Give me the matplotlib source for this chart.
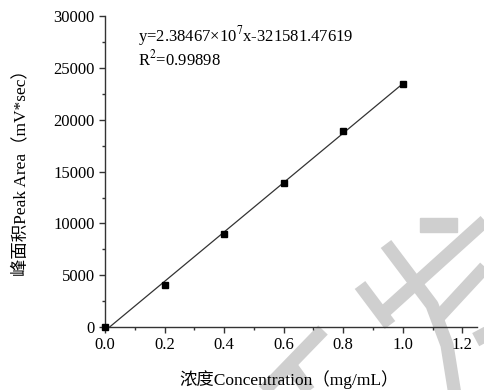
import numpy as np
import matplotlib.pyplot as plt
from matplotlib.ticker import MultipleLocator

plt.rcParams['font.family'] = ['Liberation Serif', 'Noto Sans CJK SC']
plt.rcParams['mathtext.fontset'] = 'stix'
plt.rcParams['axes.unicode_minus'] = False

conc = np.array([0.0, 0.2, 0.4, 0.6, 0.8, 1.0])
area = np.array([0, 4050, 9000, 13900, 18900, 23500])
equation = 'y=2.38467×10$^{7}$x-321581.47619'
r2_text = 'R$^{2}$=0.99898'
xlabel = '浓度Concentration（mg/mL）'
ylabel = '峰面积Peak Area（mV*sec）'

W, H = 484, 390
fig = plt.figure(figsize=(W / 100, H / 100), dpi=100)

# faint watermark strokes (pixel coords of the page, y down)
watermark = [
    [(260, 395), (323, 330)],
    [(288, 362), (312, 395)],
    [(360, 285), (390, 325)],
    [(383, 313), (486, 220)],
    [(386, 244), (432, 305), (447, 345), (455, 395)],
    [(436, 320), (486, 266)],
    [(478, 330), (486, 345)],
]
for stroke in watermark:
    xs = [p[0] / W for p in stroke]
    ys = [1 - p[1] / H for p in stroke]
    fig.add_artist(plt.Line2D(xs, ys, color='#cfcfcf', lw=9.5, solid_capstyle='butt',
                              solid_joinstyle='round', zorder=0, transform=fig.transFigure))
fig.add_artist(plt.Rectangle((420 / W, 1 - 232 / H), 37 / W, 14 / H, color='#cfcfcf',
                             zorder=0, transform=fig.transFigure))

ax = fig.add_axes([0.217, 0.1615, 0.769, 0.797])
ax.patch.set_alpha(0)

coef = np.polyfit(conc, area, 1)
xfit = np.array([conc.min(), conc.max()])
ax.plot(xfit, np.polyval(coef, xfit), color='#333333', lw=0.9, zorder=2)
ax.plot(conc, area, 's', color='black', ms=5, zorder=3, clip_on=False)

ax.set_xlim(0, 1.25)
ax.set_ylim(0, 30000)
ax.xaxis.set_major_locator(MultipleLocator(0.2))
ax.xaxis.set_minor_locator(MultipleLocator(0.1))
ax.yaxis.set_major_locator(MultipleLocator(5000))
ax.yaxis.set_minor_locator(MultipleLocator(2500))
ax.xaxis.set_major_formatter(plt.FuncFormatter(lambda v, p: f'{v:.1f}'))

for s in ['top', 'right']:
    ax.spines[s].set_visible(False)
for s in ['left', 'bottom']:
    ax.spines[s].set_color('#333333')
    ax.spines[s].set_linewidth(1.0)
ax.tick_params(which='major', direction='out', length=4, width=1.0,
               labelsize=12, colors='#333333', labelcolor='black')
ax.tick_params(which='minor', direction='out', length=2.5, width=1.0, colors='#333333')

ax.text(0.089, 0.935, equation, transform=ax.transAxes, fontsize=12, va='center')
ax.text(0.089, 0.862, r2_text, transform=ax.transAxes, fontsize=12, va='center')

ax.set_xlabel(xlabel, fontsize=12.5, va='center')
ax.set_ylabel(ylabel, fontsize=12.5, va='center')
ax.xaxis.set_label_coords(0.495, -0.17)
ax.yaxis.set_label_coords(-0.226, 0.51)

fig.savefig('out.png', dpi=100)
